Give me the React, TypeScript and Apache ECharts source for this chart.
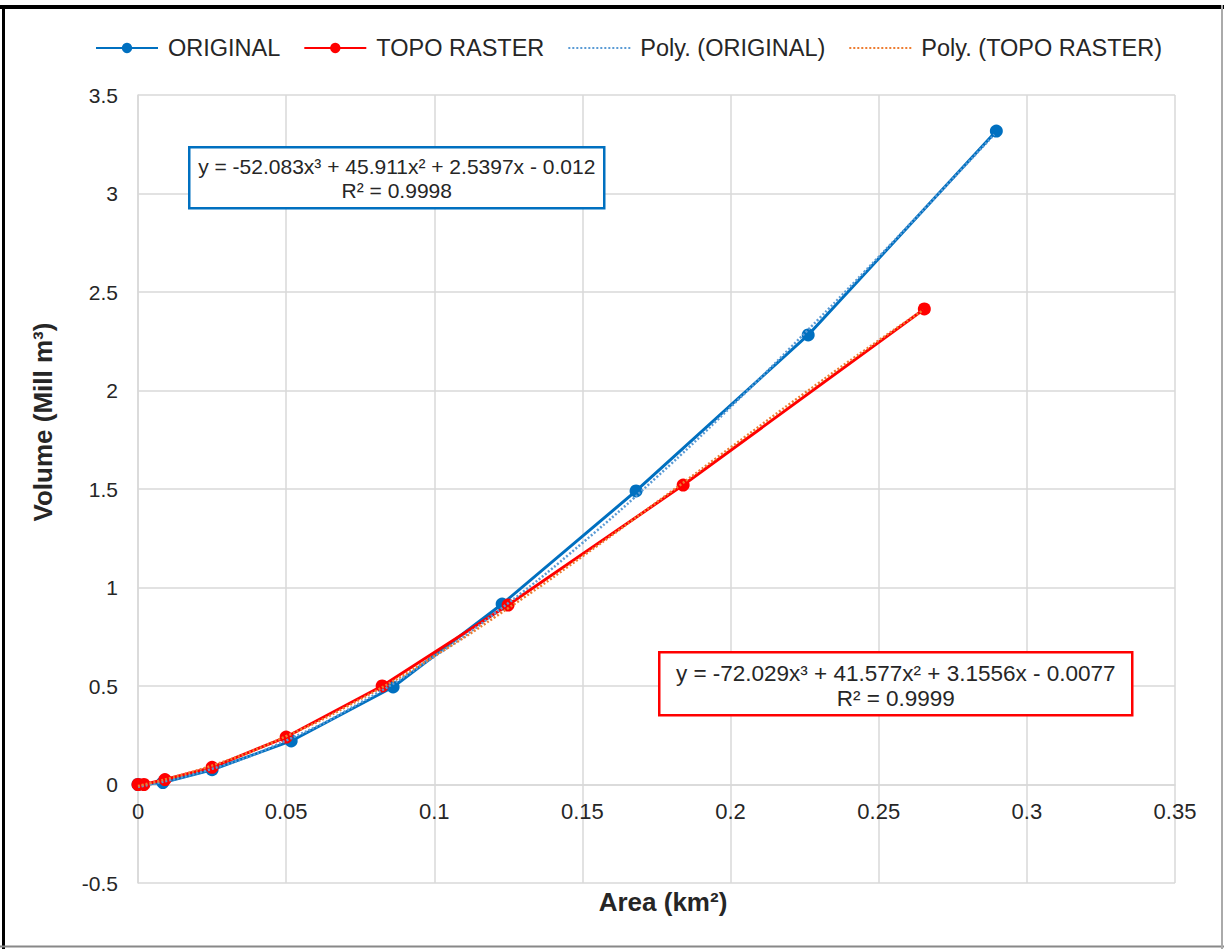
import React, { useEffect, useRef } from "react";
import * as echarts from "echarts";

const originalX = [0, 0.0084, 0.025, 0.0517, 0.0861, 0.1229, 0.1681, 0.2262, 0.2897];
const originalY = [0, 0.01, 0.075, 0.221, 0.495, 0.916, 1.49, 2.282, 3.317];
const topoX = [0, 0.002, 0.0091, 0.025, 0.05, 0.0824, 0.1249, 0.184, 0.2654];
const topoY = [0, 0, 0.025, 0.087, 0.241, 0.5, 0.911, 1.52, 2.414];

const polyOrigX = [0, 0.025, 0.05, 0.075, 0.1, 0.125, 0.15, 0.175, 0.2, 0.225, 0.25, 0.27, 0.289];
const polyOrigY = [-0.012, 0.0794, 0.2233, 0.4148, 0.649, 0.9211, 1.2262, 1.5593, 1.9157, 2.2904, 2.6786, 2.9955, 3.2993];
const polyTopoX = [0, 0.025, 0.05, 0.075, 0.1, 0.125, 0.15, 0.175, 0.2, 0.225, 0.25, 0.265];
const polyTopoY = [-0.0077, 0.0961, 0.245, 0.4325, 0.6516, 0.8957, 1.158, 1.4318, 1.7103, 1.9867, 2.2543, 2.4078];

const seriesNames = ["ORIGINAL", "TOPO RASTER", "Poly. (ORIGINAL)", "Poly. (TOPO RASTER)"];
const eqOriginal = ["y = -52.083x³ + 45.911x² + 2.5397x - 0.012", "R² = 0.9998"];
const eqTopo = ["y = -72.029x³ + 41.577x² + 3.1556x - 0.0077", "R² = 0.9999"];
const xTitle = "Area (km²)";
const yTitle = "Volume (Mill m³)";

const pairs = (xs: number[], ys: number[]) => xs.map((x, i) => [x, ys[i]]);

export default function App() {
  const ref = useRef<HTMLDivElement>(null);
  useEffect(() => {
    document.body.style.margin = "0";
    const chart = echarts.init(ref.current!, null, { renderer: "svg" });
    const font = "Liberation Sans, Arial, sans-serif";
    const txt = "#262626";
    chart.setOption({
      animation: false,
      backgroundColor: "#ffffff",
      textStyle: { fontFamily: font },
      legend: {
        top: 31,
        left: 90,
        itemWidth: 62,
        itemHeight: 13,
        itemGap: 23,
        textStyle: { fontSize: 23.5, color: txt, fontFamily: font, padding: [0, 0, 0, 5] },
        data: seriesNames,
      },
      grid: { left: 138, right: 49, top: 95, bottom: 66, containLabel: false },
      xAxis: {
        type: "value",
        min: 0,
        max: 0.35,
        interval: 0.05,
        offset: -98.5,
        axisLine: { onZero: false, lineStyle: { color: "#d9d9d9", width: 1.5 } },
        axisTick: { show: false },
        axisLabel: { fontSize: 22, color: txt, margin: 16 },
        splitLine: { show: true, lineStyle: { color: "#d9d9d9", width: 1.5 } },
      },
      yAxis: {
        type: "value",
        min: -0.5,
        max: 3.5,
        interval: 0.5,
        axisLine: { show: true, onZero: false, lineStyle: { color: "#d9d9d9", width: 1.5 } },
        axisTick: { show: false },
        axisLabel: { fontSize: 21, color: txt, margin: 20 },
        splitLine: { show: true, lineStyle: { color: "#d9d9d9", width: 1.5 } },
      },
      series: [
        {
          name: seriesNames[0],
          type: "line",
          data: pairs(originalX, originalY),
          symbol: "circle",
          symbolSize: 13,
          lineStyle: { color: "#0070c0", width: 3 },
          itemStyle: { color: "#0070c0" },
          z: 2,
        },
        {
          name: seriesNames[1],
          type: "line",
          data: pairs(topoX, topoY),
          symbol: "circle",
          symbolSize: 13,
          lineStyle: { color: "#ff0000", width: 3 },
          itemStyle: { color: "#ff0000" },
          z: 3,
        },
        {
          name: seriesNames[2],
          type: "line",
          data: pairs(polyOrigX, polyOrigY),
          smooth: true,
          symbol: "none",
          lineStyle: { color: "#5b9bd5", width: 2.5, type: [2, 2] },
          itemStyle: { color: "#5b9bd5", opacity: 0 },
          z: 4,
        },
        {
          name: seriesNames[3],
          type: "line",
          data: pairs(polyTopoX, polyTopoY),
          smooth: true,
          symbol: "none",
          lineStyle: { color: "#ed7d31", width: 2.5, type: [2, 2] },
          itemStyle: { color: "#ed7d31", opacity: 0 },
          z: 5,
        },
      ],
      graphic: [
        { type: "line", z: 100, shape: { x1: 0, y1: 7, x2: 1224, y2: 7 }, style: { stroke: "#000", lineWidth: 4 } },
        { type: "line", z: 100, shape: { x1: 3.5, y1: 5, x2: 3.5, y2: 949 }, style: { stroke: "#000", lineWidth: 3 } },
        { type: "line", z: 100, shape: { x1: 0, y1: 946.5, x2: 1224, y2: 946.5 }, style: { stroke: "#888", lineWidth: 2 } },
        { type: "line", z: 100, shape: { x1: 1222, y1: 5, x2: 1222, y2: 949 }, style: { stroke: "#aaa", lineWidth: 2 } },
        {
          type: "text",
          z: 100,
          x: 663,
          y: 902,
          style: { text: xTitle, fontSize: 26, fontWeight: "bold", fill: txt, align: "center", verticalAlign: "middle", fontFamily: font },
        },
        {
          type: "text",
          z: 100,
          x: 43,
          y: 422,
          rotation: Math.PI / 2,
          style: { text: yTitle, fontSize: 26, fontWeight: "bold", fill: txt, align: "center", verticalAlign: "middle", fontFamily: font },
        },
        {
          type: "group",
          z: 100,
          left: 188,
          top: 146,
          children: [
            { type: "rect", z: 100, shape: { x: 0, y: 0, width: 415, height: 61 }, style: { fill: "#fff", stroke: "#0070c0", lineWidth: 2.5 } },
            { type: "text", z: 101, x: 207.5, y: 19, style: { text: eqOriginal[0], fontSize: 21, fill: txt, align: "center", verticalAlign: "middle", fontFamily: font } },
            { type: "text", z: 101, x: 207.5, y: 43, style: { text: eqOriginal[1], fontSize: 21, fill: txt, align: "center", verticalAlign: "middle", fontFamily: font } },
          ],
        },
        {
          type: "group",
          z: 100,
          left: 658,
          top: 651,
          children: [
            { type: "rect", z: 100, shape: { x: 0, y: 0, width: 473, height: 63 }, style: { fill: "#fff", stroke: "#ff0000", lineWidth: 2.5 } },
            { type: "text", z: 101, x: 236.5, y: 21, style: { text: eqTopo[0], fontSize: 22.5, fill: txt, align: "center", verticalAlign: "middle", fontFamily: font } },
            { type: "text", z: 101, x: 236.5, y: 46, style: { text: eqTopo[1], fontSize: 22.5, fill: txt, align: "center", verticalAlign: "middle", fontFamily: font } },
          ],
        },
      ],
    });
    return () => chart.dispose();
  }, []);
  return <div ref={ref} style={{ width: 1224, height: 949 }} />;
}
